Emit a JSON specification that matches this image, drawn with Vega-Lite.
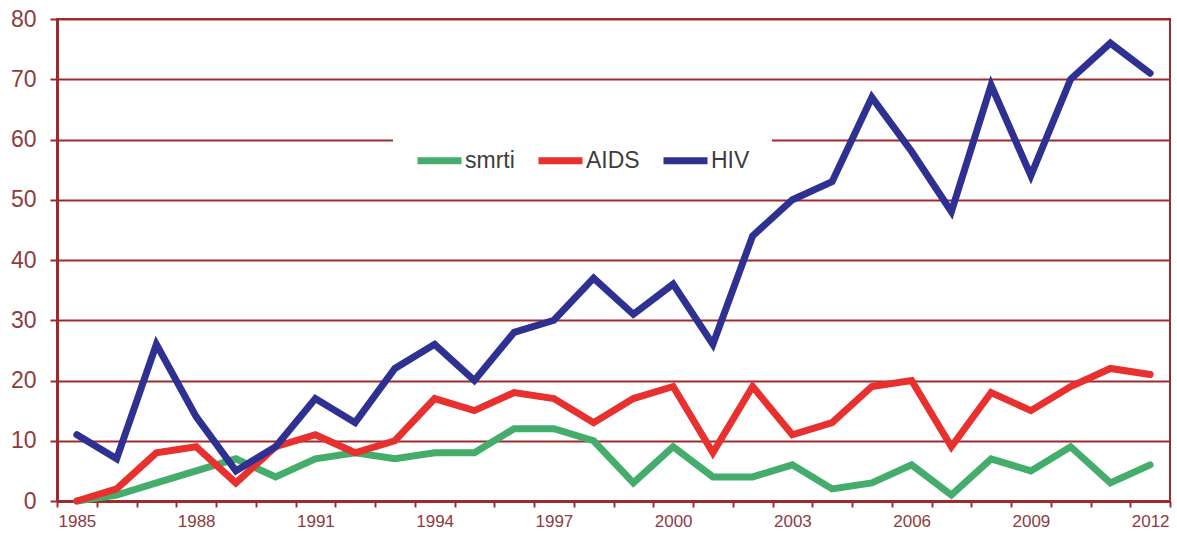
{
  "$schema": "https://vega.github.io/schema/vega-lite/v6.json",
  "autosize": "none",
  "width": 1113,
  "height": 482,
  "padding": {"left": 57, "top": 19, "right": 7, "bottom": 32},
  "background": "white",
  "config": {
    "font": "Liberation Sans",
    "view": {"stroke": "#9e2a2e", "strokeWidth": 2}
  },
  "data": {
    "values": [
      {"year": "1985", "series": "smrti", "value": 0},
      {"year": "1986", "series": "smrti", "value": 1},
      {"year": "1987", "series": "smrti", "value": 3},
      {"year": "1988", "series": "smrti", "value": 5},
      {"year": "1989", "series": "smrti", "value": 7},
      {"year": "1990", "series": "smrti", "value": 4},
      {"year": "1991", "series": "smrti", "value": 7},
      {"year": "1992", "series": "smrti", "value": 8},
      {"year": "1993", "series": "smrti", "value": 7},
      {"year": "1994", "series": "smrti", "value": 8},
      {"year": "1995", "series": "smrti", "value": 8},
      {"year": "1996", "series": "smrti", "value": 12},
      {"year": "1997", "series": "smrti", "value": 12},
      {"year": "1998", "series": "smrti", "value": 10},
      {"year": "1999", "series": "smrti", "value": 3},
      {"year": "2000", "series": "smrti", "value": 9},
      {"year": "2001", "series": "smrti", "value": 4},
      {"year": "2002", "series": "smrti", "value": 4},
      {"year": "2003", "series": "smrti", "value": 6},
      {"year": "2004", "series": "smrti", "value": 2},
      {"year": "2005", "series": "smrti", "value": 3},
      {"year": "2006", "series": "smrti", "value": 6},
      {"year": "2007", "series": "smrti", "value": 1},
      {"year": "2008", "series": "smrti", "value": 7},
      {"year": "2009", "series": "smrti", "value": 5},
      {"year": "2010", "series": "smrti", "value": 9},
      {"year": "2011", "series": "smrti", "value": 3},
      {"year": "2012", "series": "smrti", "value": 6},
      {"year": "1985", "series": "AIDS", "value": 0},
      {"year": "1986", "series": "AIDS", "value": 2},
      {"year": "1987", "series": "AIDS", "value": 8},
      {"year": "1988", "series": "AIDS", "value": 9},
      {"year": "1989", "series": "AIDS", "value": 3},
      {"year": "1990", "series": "AIDS", "value": 9},
      {"year": "1991", "series": "AIDS", "value": 11},
      {"year": "1992", "series": "AIDS", "value": 8},
      {"year": "1993", "series": "AIDS", "value": 10},
      {"year": "1994", "series": "AIDS", "value": 17},
      {"year": "1995", "series": "AIDS", "value": 15},
      {"year": "1996", "series": "AIDS", "value": 18},
      {"year": "1997", "series": "AIDS", "value": 17},
      {"year": "1998", "series": "AIDS", "value": 13},
      {"year": "1999", "series": "AIDS", "value": 17},
      {"year": "2000", "series": "AIDS", "value": 19},
      {"year": "2001", "series": "AIDS", "value": 8},
      {"year": "2002", "series": "AIDS", "value": 19},
      {"year": "2003", "series": "AIDS", "value": 11},
      {"year": "2004", "series": "AIDS", "value": 13},
      {"year": "2005", "series": "AIDS", "value": 19},
      {"year": "2006", "series": "AIDS", "value": 20},
      {"year": "2007", "series": "AIDS", "value": 9},
      {"year": "2008", "series": "AIDS", "value": 18},
      {"year": "2009", "series": "AIDS", "value": 15},
      {"year": "2010", "series": "AIDS", "value": 19},
      {"year": "2011", "series": "AIDS", "value": 22},
      {"year": "2012", "series": "AIDS", "value": 21},
      {"year": "1985", "series": "HIV", "value": 11},
      {"year": "1986", "series": "HIV", "value": 7},
      {"year": "1987", "series": "HIV", "value": 26},
      {"year": "1988", "series": "HIV", "value": 14},
      {"year": "1989", "series": "HIV", "value": 5},
      {"year": "1990", "series": "HIV", "value": 9},
      {"year": "1991", "series": "HIV", "value": 17},
      {"year": "1992", "series": "HIV", "value": 13},
      {"year": "1993", "series": "HIV", "value": 22},
      {"year": "1994", "series": "HIV", "value": 26},
      {"year": "1995", "series": "HIV", "value": 20},
      {"year": "1996", "series": "HIV", "value": 28},
      {"year": "1997", "series": "HIV", "value": 30},
      {"year": "1998", "series": "HIV", "value": 37},
      {"year": "1999", "series": "HIV", "value": 31},
      {"year": "2000", "series": "HIV", "value": 36},
      {"year": "2001", "series": "HIV", "value": 26},
      {"year": "2002", "series": "HIV", "value": 44},
      {"year": "2003", "series": "HIV", "value": 50},
      {"year": "2004", "series": "HIV", "value": 53},
      {"year": "2005", "series": "HIV", "value": 67},
      {"year": "2006", "series": "HIV", "value": 58},
      {"year": "2007", "series": "HIV", "value": 48},
      {"year": "2008", "series": "HIV", "value": 69},
      {"year": "2009", "series": "HIV", "value": 54},
      {"year": "2010", "series": "HIV", "value": 70},
      {"year": "2011", "series": "HIV", "value": 76},
      {"year": "2012", "series": "HIV", "value": 71}
    ]
  },
  "mark": {"type": "line", "strokeWidth": 7, "strokeJoin": "miter", "strokeCap": "round"},
  "encoding": {
    "x": {
      "field": "year",
      "type": "ordinal",
      "bandPosition": 0.5,
      "scale": {"type": "band", "paddingInner": 0, "paddingOuter": 0},
      "axis": {
        "title": null,
        "labelAngle": 0,
        "tickBand": "extent",
        "labelExpr": "(+datum.value - 1985) % 3 == 0 ? datum.value : ''",
        "labelOverlap": false,
        "labelFontSize": 17,
        "labelColor": "#8e3b3e",
        "labelPadding": 6,
        "tickSize": 6,
        "tickWidth": 2,
        "tickColor": "#9e2a2e",
        "domainColor": "#9e2a2e",
        "domainWidth": 3,
        "grid": false
      }
    },
    "y": {
      "field": "value",
      "type": "quantitative",
      "scale": {"domain": [0, 80], "nice": false},
      "axis": {
        "title": null,
        "values": [0, 10, 20, 30, 40, 50, 60, 70, 80],
        "labelFontSize": 23,
        "labelColor": "#8e3b3e",
        "labelPadding": 14,
        "tickSize": 7,
        "tickWidth": 2,
        "tickColor": "#9e2a2e",
        "domainColor": "#9e2a2e",
        "domainWidth": 3,
        "grid": true,
        "gridColor": "#9e2a2e",
        "gridWidth": 2,
        "gridOpacity": 1
      }
    },
    "color": {
      "field": "series",
      "type": "nominal",
      "sort": ["smrti", "AIDS", "HIV"],
      "scale": {"domain": ["smrti", "AIDS", "HIV"], "range": ["#45ad6b", "#e8302e", "#2e3192"]},
      "legend": {
        "title": null,
        "orient": "none",
        "direction": "horizontal",
        "legendX": 336,
        "legendY": 105,
        "padding": 22,
        "fillColor": "white",
        "symbolType": "M-2,0H2",
        "symbolSize": 484,
        "symbolStrokeWidth": 7,
        "symbolOffset": 10,
        "labelFontSize": 23,
        "labelColor": "#3d3d3d",
        "labelOffset": 11,
        "columnPadding": 9
      }
    }
  }
}
